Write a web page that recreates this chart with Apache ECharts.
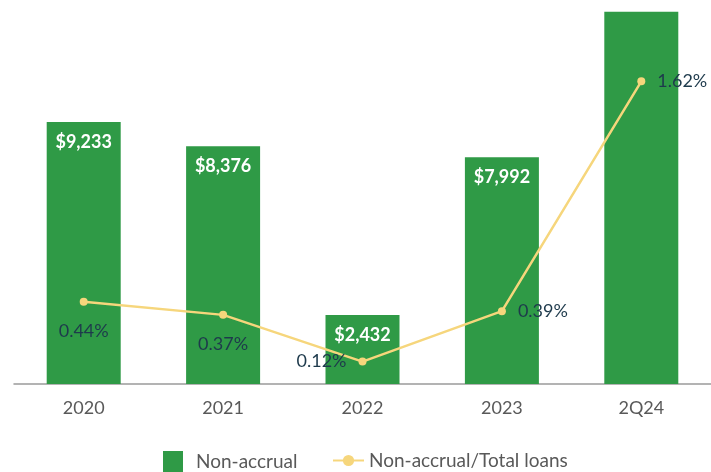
<!DOCTYPE html>
<html>
<head>
<meta charset="utf-8">
<script src="https://cdn.jsdelivr.net/npm/echarts@6/dist/echarts.min.js"></script>
<style>
  html, body { margin: 0; padding: 0; background: #ffffff; }
  #chart { width: 711px; height: 472px; }
</style>
</head>
<body>
<div id="chart"></div>
<script>
// Non-accrual loans ($, thousands) and ratio to total loans (%)
const categories = ['2020', '2021', '2022', '2023', '2Q24'];
const nonAccrual = [9233, 8376, 2432, 7992, 13120];
const nonAccrualLabels = ['$9,233', '$8,376', '$2,432', '$7,992', ''];
const ratioPct = [0.44, 0.37, 0.12, 0.39, 1.62];
const ratioLabelPos = ['bottom', 'bottom', 'left', 'right', 'right'];

const FONT = 'Lato, "Open Sans", sans-serif';
const GREEN = '#2f9a46';
const YELLOW = '#f6d67c';

const chart = echarts.init(document.getElementById('chart'));

chart.setOption({
  animation: false,
  textStyle: { fontFamily: FONT },
  grid: { left: 14, right: -4, top: 1, bottom: 88, containLabel: false },
  legend: [
    {
      data: [{ name: 'Non-accrual', icon: 'rect' }],
      left: 158, top: 446,
      itemWidth: 20, itemHeight: 21,
      textStyle: { fontSize: 19, color: '#595959', fontFamily: FONT, padding: [0, 0, 0, 8] }
    },
    {
      data: ['Non-accrual/Total loans'],
      left: 327, top: 446,
      itemWidth: 31, itemHeight: 14,
      textStyle: { fontSize: 19, color: '#595959', fontFamily: FONT }
    }
  ],
  xAxis: {
    type: 'category',
    data: categories,
    axisLine: { lineStyle: { color: '#9a9a9a', width: 1.5 } },
    axisTick: { alignWithLabel: true, length: 6, lineStyle: { color: '#9a9a9a' } },
    axisLabel: { fontSize: 18, color: '#595959', margin: 15, fontFamily: FONT }
  },
  yAxis: [
    { type: 'value', min: 0, max: 13500, show: false, splitLine: { show: false } },
    { type: 'value', min: 0, max: 2.05, show: false, splitLine: { show: false } }
  ],
  series: [
    {
      name: 'Non-accrual',
      type: 'bar',
      yAxisIndex: 0,
      barWidth: 74,
      itemStyle: { color: GREEN },
      data: nonAccrual,
      label: {
        show: true,
        position: 'insideTop',
        distance: 11,
        color: '#ffffff',
        fontWeight: 'bold',
        fontSize: 18,
        fontFamily: FONT,
        formatter: p => nonAccrualLabels[p.dataIndex]
      }
    },
    {
      name: 'Non-accrual/Total loans',
      type: 'line',
      yAxisIndex: 1,
      symbol: 'circle',
      symbolSize: 8,
      lineStyle: { color: YELLOW, width: 2.5 },
      itemStyle: { color: YELLOW },
      data: ratioPct.map((v, i) => ({
        value: v,
        label: { position: ratioLabelPos[i], distance: ratioLabelPos[i] === 'bottom' ? 16 : 12 }
      })),
      label: {
        show: true,
        color: '#1e3a4c',
        fontSize: 18,
        fontFamily: FONT,
        formatter: p => p.value.toFixed(2) + '%'
      }
    }
  ]
});
</script>
</body>
</html>
